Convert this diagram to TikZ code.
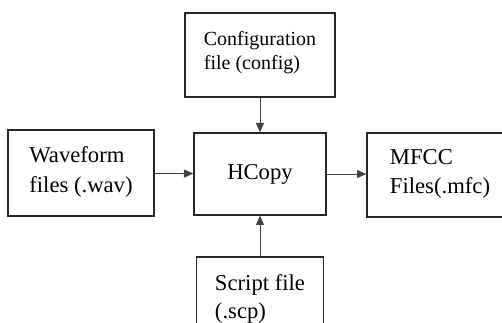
\documentclass[tikz,border=0pt]{standalone}
\usepackage{fontspec}
\setmainfont{Liberation Serif}
\usepackage{tikz}
\usetikzlibrary{arrows.meta}
\tikzset{box/.style={draw=black!85, line width=1pt, align=left, inner sep=0pt},
 arr/.style={draw=black!75, line width=0.6pt, -{Triangle[length=7pt,width=6pt]}},
 }

\begin{document}
\begin{tikzpicture}[x=0.75pt, y=-0.75pt]
        \useasboundingbox (0,0) rectangle (502,323);
        \clip (0,0) rectangle (502,323);
        \node[box, minimum width=112.5pt, minimum height=63pt, font=\fontsize{15}{18}\selectfont] (config) at (260,55) {Configuration\\file (config)\\[-11pt]};
        \node[box, minimum width=99pt, minimum height=61.5pt, font=\fontsize{17}{20}\selectfont] (hcopy) at (260,174) {HCopy};
        \node[box, minimum width=109.5pt, minimum height=64.5pt, font=\fontsize{17}{22}\selectfont] (wave) at (81,173) {Waveform\\files (.wav)\\[-17pt]};
        \node[box, minimum width=109.5pt, minimum height=63pt, font=\fontsize{17}{22}\selectfont] (mfcc) at (440,175) {MFCC\\Files(.mfc)\\[-17pt]};
        \node[box, minimum width=95.25pt, minimum height=63pt, font=\fontsize{17}{21}\selectfont] (script) at (260,299) {Script file\\(.scp)};
        \draw[arr] (config) -- (hcopy);
        \draw[arr] (script) -- (hcopy);
        \draw[arr] (wave) -- (hcopy);
        \draw[arr] (hcopy.east) -- (hcopy.east -| mfcc.west);
    \end{tikzpicture}
\end{document}
